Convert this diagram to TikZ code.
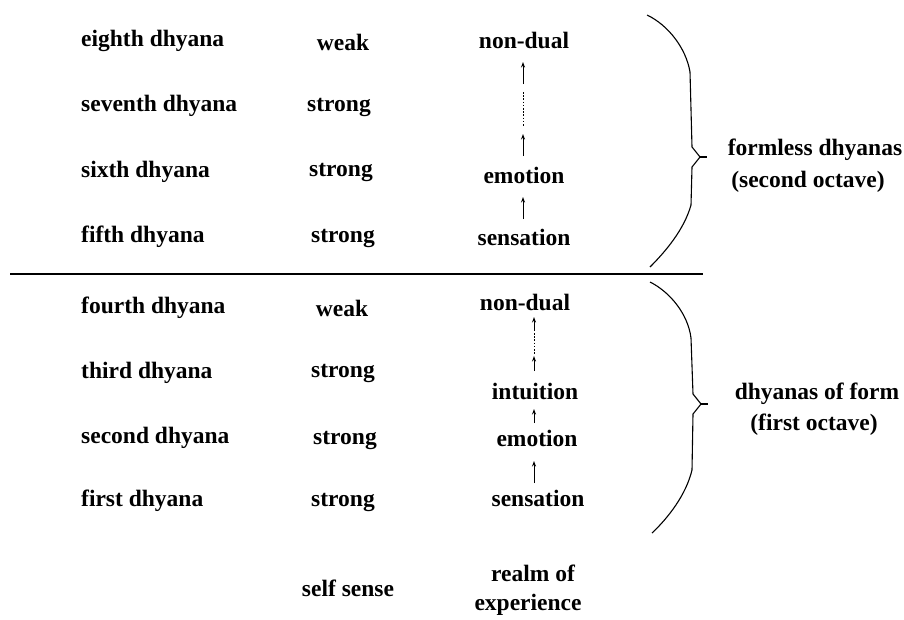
\documentclass[tikz,border=0pt]{standalone}
\usepackage{fontspec}
\setmainfont{Liberation Serif}
\usetikzlibrary{arrows.meta}
\begin{document}
\begin{tikzpicture}[x=1pt,y=-1pt,
  every node/.style={inner sep=0pt,font=\fontsize{23.5}{28}\selectfont\bfseries},
  lbl/.style={anchor=west},
  up/.style={line width=0.9pt,-{Stealth[length=5.5pt,width=4pt]}},
  dots/.style={line width=1pt,dash pattern=on 1.6pt off 1.6pt},
  brace/.style={line width=1.1pt,line join=round}]
\useasboundingbox (0,0) rectangle (904,619);
% column 1
\node[lbl] (d8) at (81,41) {eighth dhyana};
\node[lbl] (d7) at (81,106) {seventh dhyana};
\node[lbl] (d6) at (81,172) {sixth dhyana};
\node[lbl] (d5) at (81,237) {fifth dhyana};
\node[lbl] (d4) at (81,308) {fourth dhyana};
\node[lbl] (d3) at (81,373) {third dhyana};
\node[lbl] (d2) at (81,438) {second dhyana};
\node[lbl] (d1) at (81,501) {first dhyana};
% column 2
\node (s8) at (343,42) {weak};
\node (s7) at (339,107) {strong};
\node (s6) at (341,172) {strong};
\node (s5) at (343,238) {strong};
\node (s4) at (342,308) {weak};
\node (s3) at (343,373) {strong};
\node (s2) at (345,440) {strong};
\node (s1) at (343,502) {strong};
\node (ss) at (348,588) {self sense};
% column 3 upper
\node (u8) at (524,40) {non-dual};
\node (u6) at (524,175) {emotion};
\node (u5) at (524,237) {sensation};
\coordinate (ua1b) at (523,84);
\coordinate (ua1t) at (523,62);
\coordinate (ud1) at (523,92);
\coordinate (ud2) at (523,127);
\coordinate (ua2b) at (523,156);
\coordinate (ua2t) at (523,134);
\coordinate (ua3b) at (523,219);
\coordinate (ua3t) at (523,197);
\draw[up] (ua1b) -- (ua1t);
\draw[dots] (ud1) -- (ud2);
\draw[up] (ua2b) -- (ua2t);
\draw[up] (ua3b) -- (ua3t);
% column 3 lower
\node (l4) at (525,302) {non-dual};
\node (l3) at (535,391) {intuition};
\node (l2) at (537,438) {emotion};
\node (l1) at (538,498) {sensation};
\coordinate (la1b) at (534,331);
\coordinate (la1t) at (534,317);
\coordinate (ld1) at (534,333);
\coordinate (ld2) at (534,355);
\coordinate (la2b) at (534,371);
\coordinate (la2t) at (534,356);
\coordinate (la3b) at (534,423);
\coordinate (la3t) at (534,409);
\coordinate (la4b) at (534,483);
\coordinate (la4t) at (534,461);
\draw[up] (la1b) -- (la1t);
\draw[dots] (ld1) -- (ld2);
\draw[up] (la2b) -- (la2t);
\draw[up] (la3b) -- (la3t);
\draw[up] (la4b) -- (la4t);
\node (re1) at (533,573) {realm of};
\node (re2) at (528,605) {experience};
% separator
\coordinate (hl) at (10,274);
\coordinate (hr) at (703,274);
\draw[line width=1.2pt] (hl) -- (hr);
% upper brace
\coordinate (ubt) at (647,15);
\coordinate (ubtip) at (700,157);
\coordinate (ubb) at (650,267);
\draw[brace] (ubt) .. controls (668,25) and (686,48) .. (690,72) -- (692,147)
  -- (ubtip) -- (692,167) -- (691,205) .. controls (684,230) and (665,252) .. (ubb);
\draw[brace] (ubtip) -- (707,157);
% lower brace
\coordinate (lbt) at (650,282);
\coordinate (lbtip) at (701,404);
\coordinate (lbb) at (652,533);
\draw[brace] (lbt) .. controls (670,292) and (688,314) .. (691,338) -- (693,394)
  -- (lbtip) -- (693,414) -- (692,470) .. controls (686,495) and (668,518) .. (lbb);
\draw[brace] (lbtip) -- (708,404);
% right labels
\node (f1) at (815,150) {formless dhyanas};
\node (f2) at (808,182) {(second octave)};
\node (g1) at (817,394) {dhyanas of form};
\node (g2) at (814,425) {(first octave)};
\end{tikzpicture}
\end{document}
